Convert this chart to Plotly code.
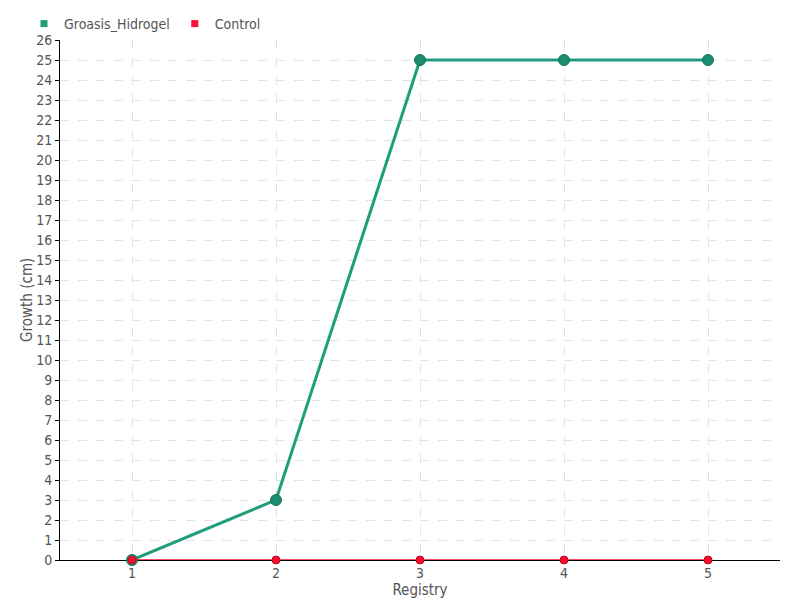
import plotly.graph_objects as go

registry = [1, 2, 3, 4, 5]
groasis_hidrogel = [0, 3, 25, 25, 25]
control = [0, 0, 0, 0, 0]
y_ticks = list(range(0, 27))

font_family = "Liberation Sans Narrow, DejaVu Sans Condensed, Roboto, sans-serif"
green = "#1f9e7e"
red = "#ff1030"

fig = go.Figure()
fig.add_trace(go.Scatter(
    x=registry, y=groasis_hidrogel, name="Groasis_Hidrogel", mode="lines+markers",
    line=dict(color=green, width=3), showlegend=False, cliponaxis=False,
    marker=dict(size=11, color="#1b8c6e", line=dict(color="#16735a", width=1)),
))
fig.add_trace(go.Scatter(
    x=registry, y=control, name="Control", mode="lines+markers",
    line=dict(color=red, width=1.5), showlegend=False, cliponaxis=False,
    marker=dict(size=8, color="#ee1030", line=dict(color="#cc0a25", width=1)),
))
# legend entries (square symbols)
fig.add_trace(go.Scatter(x=[None], y=[None], name="Groasis_Hidrogel", mode="markers",
                         marker=dict(symbol="square", size=7, color=green)))
fig.add_trace(go.Scatter(x=[None], y=[None], name="Control", mode="markers",
                         marker=dict(symbol="square", size=7, color=red)))

fig.update_layout(
    width=800, height=600,
    paper_bgcolor="white", plot_bgcolor="white",
    margin=dict(l=52, r=28, t=32, b=48, autoexpand=False),
    font=dict(family=font_family, size=14, color="#555555"),
    showlegend=True,
    legend=dict(orientation="h", x=0.02, xref="container", y=1.0, yref="container",
                xanchor="left", yanchor="top", itemwidth=30,
                font=dict(size=14, color="#555555"), bgcolor="rgba(0,0,0,0)",
                tracegroupgap=0),
    xaxis=dict(
        range=[0.5, 5.5], tickvals=registry, ticktext=[str(v) for v in registry],
        showline=True, linecolor="black", linewidth=1, layer="below traces",
        showgrid=True, gridcolor="#e3e3e3", griddash="dash", gridwidth=1,
        ticks="", zeroline=False,
        title=dict(text="Registry", standoff=0, font=dict(size=15)),
    ),
    yaxis=dict(
        range=[0, 26], tickvals=y_ticks,
        showline=True, linecolor="black", linewidth=1, layer="below traces",
        showgrid=True, gridcolor="#e3e3e3", griddash="dash", gridwidth=1,
        ticks="outside", ticklen=4, tickcolor="black", zeroline=False,
        tickfont=dict(size=14),
    ),
    annotations=[dict(
        text="Growth (cm)", textangle=-90, xref="paper", yref="paper",
        x=-0.046, y=0.5, xanchor="center", yanchor="middle", showarrow=False,
        font=dict(size=15, color="#555555"),
    )],
)

fig.write_html("out.html")
